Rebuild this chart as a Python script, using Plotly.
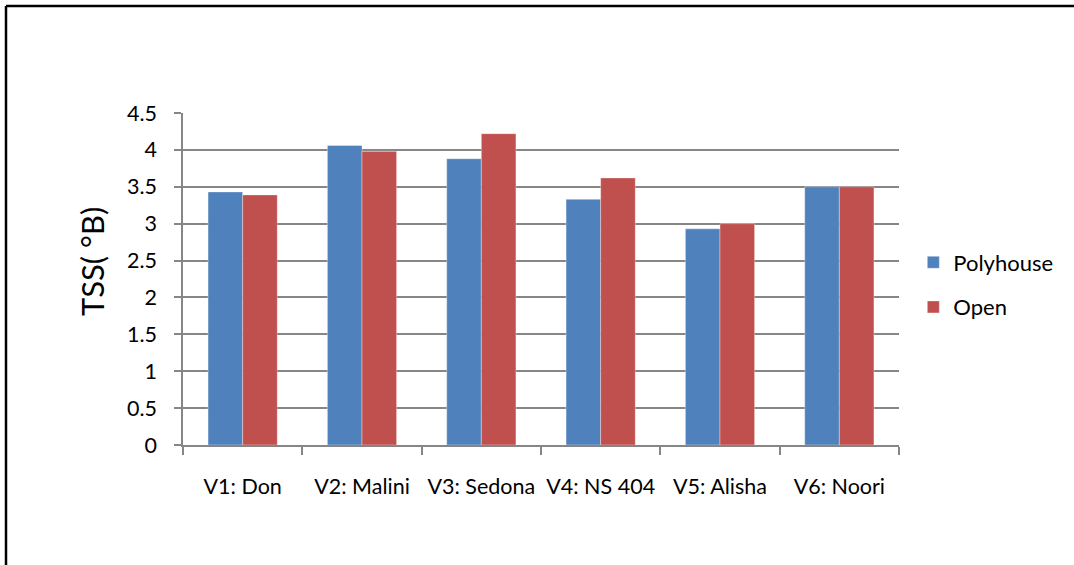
import plotly.graph_objects as go

# Total soluble solids of six varieties under two growing conditions
varieties = ["V1: Don", "V2: Malini", "V3: Sedona", "V4: NS 404", "V5: Alisha", "V6: Noori"]
polyhouse = [3.43, 4.06, 3.88, 3.33, 2.93, 3.50]
open_field = [3.39, 3.98, 4.22, 3.62, 3.00, 3.50]
y_ticks = [0, 0.5, 1, 1.5, 2, 2.5, 3, 3.5, 4, 4.5]
y_tick_text = ["0", "0.5", "1", "1.5", "2", "2.5", "3", "3.5", "4", "4.5"]

FONT = "Lato"
GRID = "#868686"

fig = go.Figure()
fig.add_trace(go.Bar(
    name="Polyhouse", x=varieties, y=polyhouse,
    marker=dict(color="#4F81BD", line=dict(color="rgba(255,255,255,0.6)", width=0.6)),
    legendgroup="a",
))
fig.add_trace(go.Bar(
    name="Open", x=varieties, y=open_field,
    marker=dict(color="#C0504D", line=dict(color="rgba(255,255,255,0.6)", width=0.6)),
    legendgroup="b",
))

fig.update_layout(
    width=1074, height=565,
    margin=dict(l=183, r=175, t=113, b=120),
    paper_bgcolor="white", plot_bgcolor="white",
    barmode="group", bargap=0.42, bargroupgap=0,
    font=dict(family=FONT, size=21, color="#000000"),
    legend=dict(
        x=1.02, xanchor="left", y=0.482, yanchor="middle",
        traceorder="grouped", tracegroupgap=13,
        font=dict(family=FONT, size=22),
        itemwidth=30, bgcolor="rgba(0,0,0,0)",
    ),
    xaxis=dict(
        showline=True, linecolor=GRID, linewidth=1.5,
        ticks="outside", tickson="boundaries", ticklen=8,
        tickcolor=GRID, tickwidth=1.5,
        showgrid=False, tickfont=dict(family=FONT, size=21.5),
        ticklabelstandoff=21,
    ),
    yaxis=dict(
        range=[0, 4.5], tickvals=y_ticks, ticktext=y_tick_text,
        showline=True, linecolor=GRID, linewidth=1.5,
        ticks="outside", ticklen=7, tickcolor=GRID, tickwidth=1.5,
        showgrid=True, gridcolor=GRID, gridwidth=1.5,
        zeroline=False, tickfont=dict(family=FONT, size=21.5),
        ticklabelstandoff=13,
    ),
    annotations=[dict(
        text="TSS( °B)", textangle=-90,
        xref="paper", yref="paper",
        x=(92 - 183) / 716, y=1 - (262 - 113) / 332,
        xanchor="center", yanchor="middle", showarrow=False,
        font=dict(family=FONT, size=31, color="#000000"),
    )],
    shapes=[
        # outer frame: left and top edges
        dict(type="line", xref="paper", yref="paper",
             x0=(6 - 183) / 716, x1=(6 - 183) / 716,
             y0=1 + (113 - 6) / 332, y1=-0.5,
             line=dict(color="black", width=2.5)),
        dict(type="line", xref="paper", yref="paper",
             x0=(6 - 183) / 716, x1=1.4,
             y0=1 + (113 - 6) / 332, y1=1 + (113 - 6) / 332,
             line=dict(color="black", width=2.5)),
    ],
)

fig.write_html("out.html")
